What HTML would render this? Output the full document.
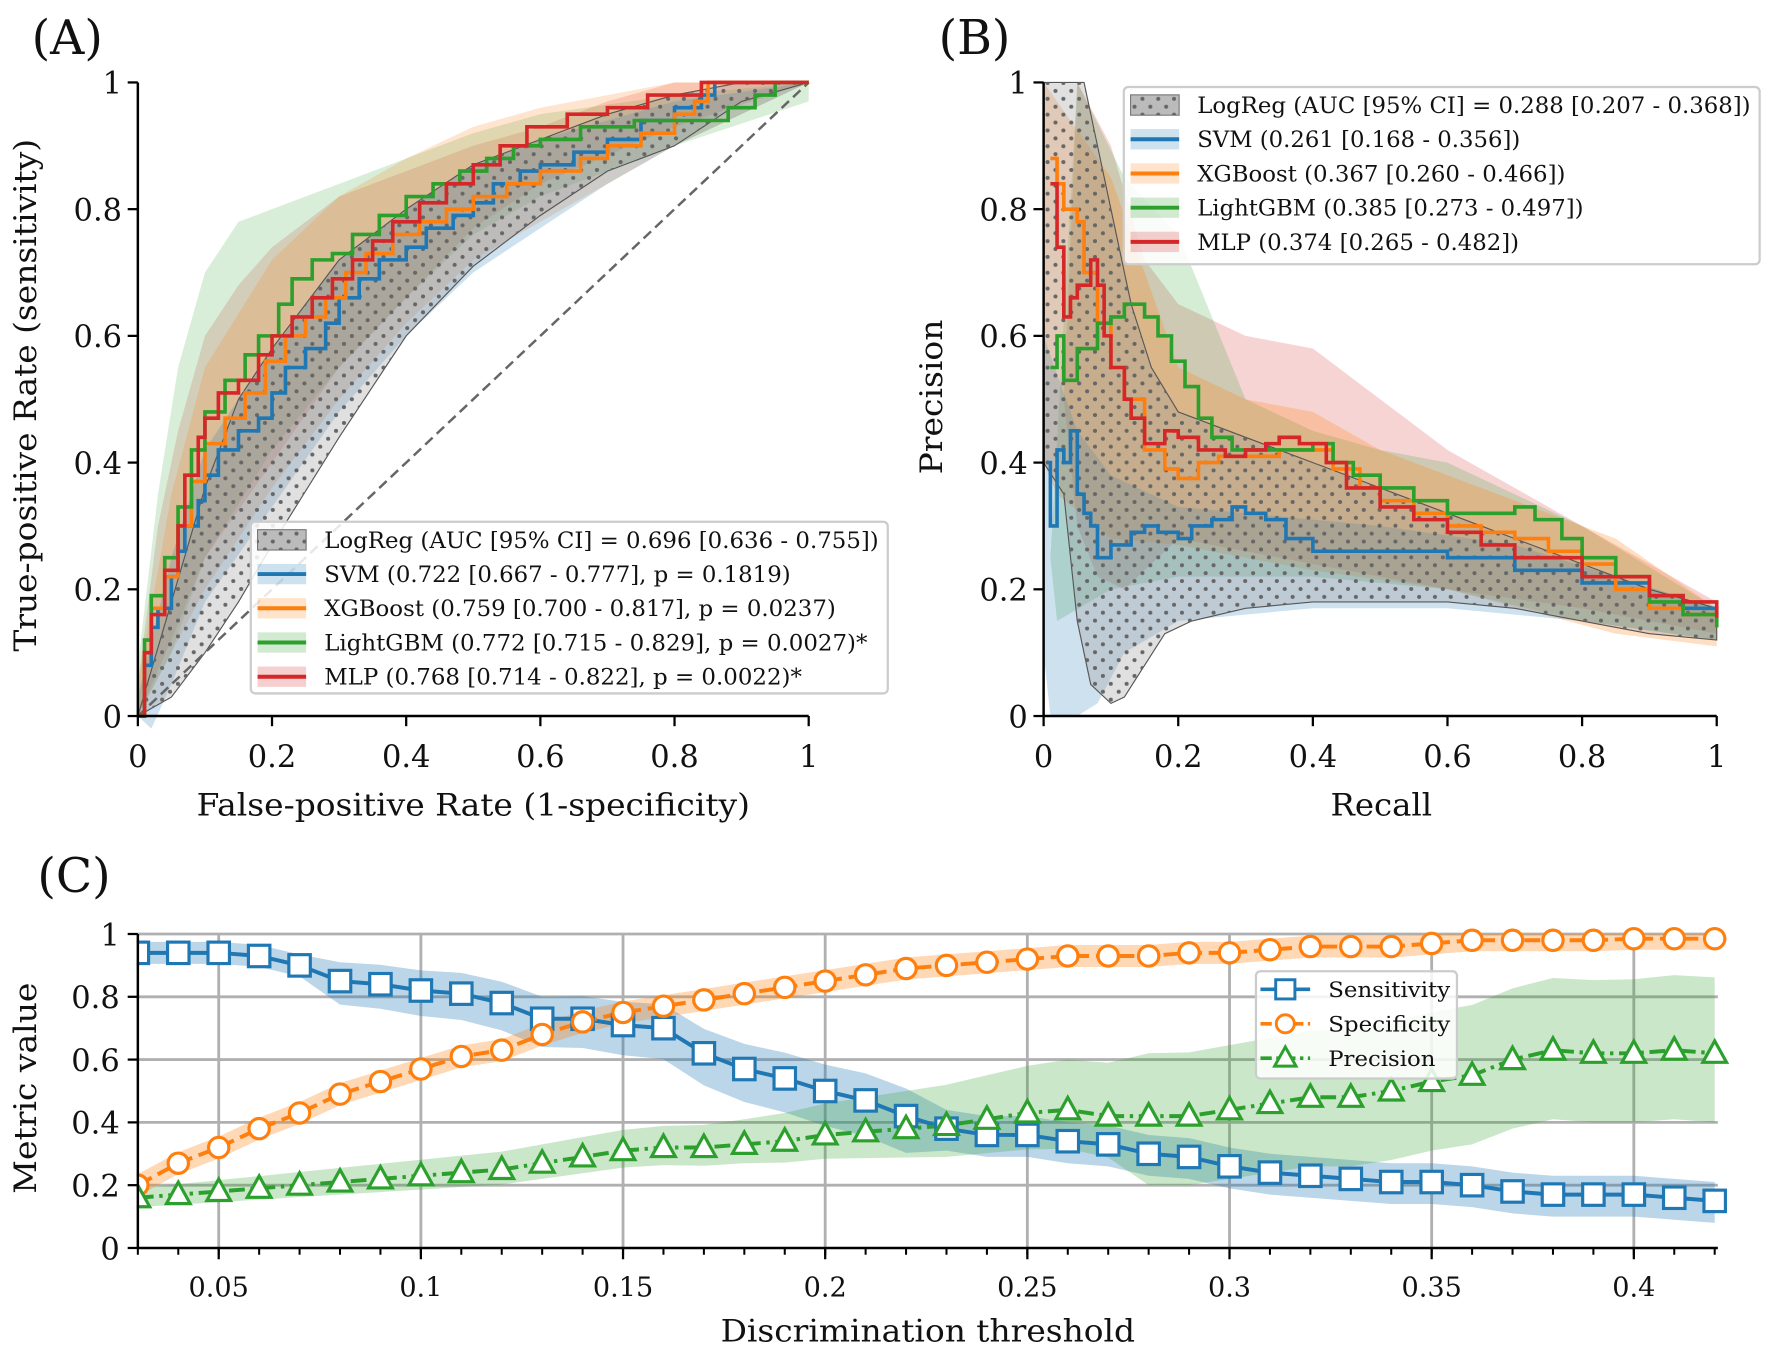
<!DOCTYPE html>
<html><head><meta charset="utf-8">
<style>
html,body{margin:0;padding:0;background:#fff;}
svg{display:block;}
text{font-family:"DejaVu Serif","Liberation Serif",serif;fill:#111;}
</style></head>
<body>
<svg id="s" width="1771" height="1353" viewBox="0 0 1568 1198" xmlns="http://www.w3.org/2000/svg">
<defs>
<pattern id="dots" width="14" height="14" patternUnits="userSpaceOnUse">
<rect width="14" height="14" fill="none"/>
<circle cx="3.5" cy="3.5" r="1.8" fill="#666"/>
<circle cx="10.5" cy="10.5" r="1.8" fill="#666"/>
</pattern>
</defs>
<g id="g"></g>
</svg>
<script>
const NS="http://www.w3.org/2000/svg";
const G=document.getElementById('g');
function el(t,a,txt,p){const e=document.createElementNS(NS,t);for(const k in a)e.setAttribute(k,a[k]);if(txt!==undefined&&txt!==null)e.textContent=txt;(p||G).appendChild(e);return e;}
const C={b:'#1f77b4',o:'#ff7f0e',g:'#2ca02c',r:'#d62728',k:'#777'};
function mA(x,y){return [122+x*594,634-y*561];}
function mB(x,y){return [924+x*596,634-y*561];}
function pts(arr,m,step){let out=[];let prev=null;for(const p of arr){if(step&&prev){out.push(m(p[0],prev[1]));}out.push(m(p[0],p[1]));prev=p;}return out.map(q=>q[0].toFixed(1)+','+q[1].toFixed(1)).join(' ');}
function band(up,lo,m,fill,op,extra){const a=up.concat(lo);el('polygon',Object.assign({points:pts(a,m),fill:fill,'fill-opacity':op,stroke:'none'},extra||{}));}
function line(arr,m,col,w,step,extra){el('polyline',Object.assign({points:pts(arr,m,step),fill:'none',stroke:col,'stroke-width':w,'stroke-linejoin':'miter'},extra||{}));}

// ===== Panel A =====
band([[0,0.05],[0.03,0.3],[0.06,0.45],[0.1,0.6],[0.15,0.68],[0.2,0.74],[0.3,0.82],[0.4,0.86],[0.5,0.9],[0.6,0.93],[0.7,0.97],[0.8,1],[1,1]],[[1,1],[0.8,0.93],[0.6,0.84],[0.5,0.77],[0.4,0.66],[0.3,0.55],[0.2,0.4],[0.1,0.25],[0.05,0.12],[0,0]],mA,C.r,0.18);
band([[0,0.08],[0.03,0.35],[0.06,0.55],[0.1,0.7],[0.15,0.78],[0.2,0.8],[0.3,0.84],[0.4,0.88],[0.5,0.92],[0.6,0.95],[0.8,0.98],[1,1]],[[1,0.97],[0.8,0.9],[0.6,0.82],[0.5,0.76],[0.4,0.66],[0.3,0.55],[0.2,0.42],[0.1,0.25],[0.05,0.1],[0,0]],mA,C.g,0.18);
band([[0,0.05],[0.05,0.35],[0.1,0.55],[0.2,0.72],[0.3,0.82],[0.4,0.88],[0.5,0.93],[0.6,0.96],[0.8,1],[1,1]],[[1,1],[0.8,0.9],[0.7,0.84],[0.6,0.78],[0.5,0.72],[0.4,0.62],[0.3,0.5],[0.2,0.36],[0.1,0.2],[0,0]],mA,C.o,0.2);
band([[0,0.03],[0.05,0.25],[0.1,0.42],[0.2,0.58],[0.3,0.72],[0.4,0.8],[0.5,0.87],[0.6,0.91],[0.8,0.97],[1,1]],[[1,1],[0.8,0.9],[0.7,0.84],[0.6,0.77],[0.5,0.7],[0.4,0.6],[0.3,0.48],[0.2,0.33],[0.1,0.18],[0.05,0.05],[0.02,-0.02],[0,0]],mA,C.b,0.22);
const lrU=[[0,0],[0.05,0.18],[0.1,0.36],[0.15,0.5],[0.2,0.58],[0.3,0.72],[0.4,0.8],[0.5,0.87],[0.6,0.91],[0.7,0.95],[0.8,0.98],[0.9,1],[1,1]];
const lrL=[[1,1],[0.9,0.97],[0.8,0.9],[0.7,0.86],[0.6,0.79],[0.5,0.71],[0.4,0.6],[0.3,0.44],[0.2,0.27],[0.15,0.18],[0.1,0.1],[0.05,0.03],[0,0]];
band(lrU,lrL,mA,'#999',0.3,{stroke:'#555','stroke-width':1});
band(lrU,lrL,mA,'url(#dots)',1);
el('line',{x1:122,y1:634,x2:716,y2:73,stroke:'#666','stroke-width':2.2,'stroke-dasharray':'9,5'});
line([[0,0],[0.01,0.08],[0.02,0.14],[0.03,0.17],[0.05,0.22],[0.06,0.26],[0.07,0.3],[0.09,0.34],[0.1,0.38],[0.12,0.42],[0.15,0.45],[0.18,0.47],[0.2,0.51],[0.22,0.55],[0.25,0.58],[0.28,0.62],[0.3,0.66],[0.33,0.69],[0.36,0.72],[0.4,0.74],[0.43,0.77],[0.47,0.79],[0.5,0.81],[0.53,0.84],[0.57,0.86],[0.6,0.87],[0.65,0.89],[0.7,0.91],[0.75,0.94],[0.8,0.96],[0.84,0.98],[0.86,1],[1,1]],mA,C.b,3.2,true);
line([[0,0],[0.01,0.1],[0.02,0.17],[0.04,0.22],[0.06,0.3],[0.08,0.37],[0.1,0.43],[0.13,0.47],[0.16,0.51],[0.19,0.56],[0.22,0.6],[0.25,0.63],[0.28,0.66],[0.31,0.7],[0.34,0.73],[0.38,0.76],[0.42,0.78],[0.46,0.8],[0.5,0.82],[0.55,0.84],[0.6,0.86],[0.66,0.88],[0.7,0.9],[0.75,0.92],[0.8,0.95],[0.83,0.97],[0.85,1],[1,1]],mA,C.o,3.2,true);
line([[0,0],[0.01,0.12],[0.02,0.19],[0.04,0.25],[0.06,0.33],[0.08,0.42],[0.1,0.48],[0.13,0.53],[0.16,0.57],[0.18,0.6],[0.21,0.65],[0.23,0.69],[0.26,0.72],[0.29,0.73],[0.32,0.76],[0.36,0.79],[0.4,0.82],[0.44,0.84],[0.48,0.86],[0.52,0.88],[0.56,0.9],[0.6,0.91],[0.66,0.93],[0.74,0.94],[0.82,0.94],[0.88,0.96],[0.92,0.98],[0.95,1],[1,1]],mA,C.g,3.2,true);
line([[0,0],[0.01,0.1],[0.02,0.16],[0.04,0.23],[0.06,0.3],[0.07,0.38],[0.09,0.44],[0.1,0.47],[0.12,0.51],[0.15,0.53],[0.18,0.57],[0.2,0.6],[0.23,0.63],[0.26,0.66],[0.29,0.69],[0.32,0.72],[0.35,0.75],[0.38,0.78],[0.42,0.81],[0.46,0.84],[0.5,0.87],[0.54,0.9],[0.58,0.93],[0.64,0.95],[0.7,0.96],[0.76,0.98],[0.84,1],[1,1]],mA,C.r,3.2,true);

// ===== Panel B =====
band([[0.05,1],[0.1,0.9],[0.15,0.72],[0.2,0.65],[0.3,0.6],[0.4,0.58],[0.5,0.5],[0.6,0.42],[0.8,0.3],[1,0.18]],[[1,0.13],[0.8,0.17],[0.6,0.2],[0.4,0.24],[0.2,0.28],[0.12,0.2],[0.08,0.22],[0.05,0.3],[0.03,0.5]],mB,C.r,0.2);
band([[0.05,1],[0.12,0.85],[0.2,0.76],[0.3,0.5],[0.4,0.45],[0.5,0.42],[0.6,0.4],[0.8,0.3],[1,0.17]],[[1,0.12],[0.8,0.15],[0.6,0.2],[0.4,0.22],[0.2,0.22],[0.1,0.2],[0.02,0.15],[0.01,0.25]],mB,C.g,0.2);
band([[0,1],[0.1,0.85],[0.15,0.7],[0.2,0.55],[0.3,0.5],[0.4,0.48],[0.5,0.42],[0.7,0.34],[0.85,0.28],[1,0.17]],[[1,0.11],[0.85,0.13],[0.6,0.2],[0.4,0.23],[0.3,0.25],[0.2,0.27],[0.1,0.28],[0.02,0.35],[0,0.4]],mB,C.o,0.25);
band([[0,0.6],[0.05,0.45],[0.1,0.38],[0.2,0.33],[0.3,0.32],[0.5,0.3],[0.7,0.27],[1,0.17]],[[1,0.12],[0.8,0.15],[0.6,0.17],[0.4,0.17],[0.3,0.16],[0.2,0.15],[0.12,0.1],[0.08,0.02],[0.05,0],[0.01,0],[0,0.1]],mB,C.b,0.22);
const prU=[[0,1],[0.06,1],[0.08,0.9],[0.1,0.8],[0.13,0.65],[0.16,0.55],[0.2,0.48],[0.3,0.44],[0.4,0.4],[0.5,0.36],[0.6,0.32],[0.7,0.28],[0.8,0.24],[0.9,0.2],[1,0.17]];
const prL=[[1,0.12],[0.9,0.13],[0.8,0.15],[0.7,0.17],[0.6,0.18],[0.5,0.18],[0.4,0.18],[0.3,0.17],[0.22,0.15],[0.18,0.13],[0.15,0.08],[0.12,0.03],[0.1,0.02],[0.07,0.05],[0.05,0.15],[0.03,0.35],[0,0.4]];
band(prU,prL,mB,'#999',0.3,{stroke:'#555','stroke-width':1});
band(prU,prL,mB,'url(#dots)',1);
line([[0.005,0.4],[0.01,0.3],[0.02,0.42],[0.03,0.4],[0.04,0.45],[0.05,0.35],[0.06,0.32],[0.07,0.3],[0.08,0.25],[0.1,0.27],[0.13,0.29],[0.15,0.3],[0.17,0.29],[0.2,0.28],[0.22,0.3],[0.25,0.31],[0.28,0.33],[0.3,0.32],[0.33,0.31],[0.36,0.28],[0.4,0.26],[0.5,0.26],[0.6,0.25],[0.7,0.23],[0.8,0.21],[0.9,0.19],[0.95,0.17],[1,0.16]],mB,C.b,3.2,true);
line([[0.01,0.88],[0.02,0.84],[0.03,0.8],[0.05,0.78],[0.06,0.7],[0.08,0.62],[0.1,0.55],[0.12,0.5],[0.15,0.42],[0.18,0.39],[0.2,0.375],[0.23,0.4],[0.26,0.41],[0.3,0.41],[0.35,0.42],[0.4,0.42],[0.43,0.39],[0.47,0.36],[0.5,0.34],[0.55,0.32],[0.6,0.3],[0.65,0.29],[0.7,0.28],[0.75,0.26],[0.8,0.24],[0.85,0.2],[0.9,0.17],[0.95,0.16],[1,0.14]],mB,C.o,3.2,true);
line([[0.01,0.55],[0.02,0.6],[0.03,0.53],[0.05,0.58],[0.08,0.62],[0.1,0.63],[0.12,0.65],[0.15,0.63],[0.17,0.6],[0.19,0.56],[0.21,0.52],[0.23,0.47],[0.25,0.44],[0.28,0.42],[0.33,0.42],[0.4,0.43],[0.43,0.4],[0.46,0.38],[0.5,0.36],[0.55,0.34],[0.6,0.32],[0.65,0.32],[0.7,0.33],[0.73,0.31],[0.77,0.28],[0.8,0.25],[0.85,0.22],[0.9,0.18],[0.95,0.16],[1,0.14]],mB,C.g,3.2,true);
line([[0.01,0.84],[0.02,0.74],[0.03,0.63],[0.04,0.66],[0.05,0.68],[0.07,0.72],[0.08,0.68],[0.09,0.6],[0.1,0.55],[0.12,0.5],[0.13,0.47],[0.15,0.43],[0.18,0.45],[0.2,0.44],[0.23,0.42],[0.27,0.41],[0.3,0.42],[0.33,0.43],[0.35,0.44],[0.38,0.43],[0.42,0.4],[0.45,0.36],[0.5,0.33],[0.55,0.31],[0.6,0.29],[0.65,0.27],[0.7,0.25],[0.8,0.22],[0.9,0.19],[0.95,0.18],[1,0.155]],mB,C.r,3.2,true);

function axes(x0,x1,m){
  el('line',{x1:x0,y1:634,x2:x1,y2:634,stroke:'#000','stroke-width':2.2});
  el('line',{x1:x0,y1:634,x2:x0,y2:73,stroke:'#000','stroke-width':2.2});
  const labs=['0','0.2','0.4','0.6','0.8','1'];
  for(let i=0;i<=5;i++){
    const v=i/5;const p=m(v,v);
    el('line',{x1:p[0],y1:634,x2:p[0],y2:643,stroke:'#000','stroke-width':2});
    el('text',{x:p[0],y:679,'text-anchor':'middle','font-size':27},labs[i]);
    el('line',{x1:x0,y1:p[1],x2:x0-9,y2:p[1],stroke:'#000','stroke-width':2});
    el('text',{x:x0-14,y:p[1]+10,'text-anchor':'end','font-size':27},labs[i]);
  }
}
axes(122,716,mA);axes(924,1520,mB);
el('text',{x:174,y:722,'font-size':27,textLength:490,lengthAdjust:'spacingAndGlyphs'},'False-positive Rate (1-specificity)');
el('text',{x:0,y:0,'font-size':27,textLength:454,lengthAdjust:'spacingAndGlyphs',transform:'translate(32,577) rotate(-90)'},'True-positive Rate (sensitivity)');
el('text',{x:1178,y:722,'font-size':27,textLength:90,lengthAdjust:'spacingAndGlyphs'},'Recall');
el('text',{x:0,y:0,'font-size':27,textLength:137,lengthAdjust:'spacingAndGlyphs',transform:'translate(834,420) rotate(-90)'},'Precision');
el('text',{x:28,y:48,'font-size':42},'(A)');
el('text',{x:831,y:48,'font-size':42},'(B)');
el('text',{x:33,y:790,'font-size':42},'(C)');

function legend(x,y,w,h,rows){
  el('rect',{x:x,y:y,width:w,height:h,rx:4,fill:'#fff','fill-opacity':0.85,stroke:'#ccc','stroke-width':2});
  rows.forEach((r,i)=>{
    const cy=y+16+i*30.3;
    if(r[0]==='k'){
      el('rect',{x:x+6,y:cy-9,width:43,height:18,fill:'#bbb',stroke:'#777','stroke-width':1});
      el('rect',{x:x+6,y:cy-9,width:43,height:18,fill:'url(#dots)'});
    } else {
      el('rect',{x:x+6,y:cy-9,width:43,height:18,fill:C[r[0]],'fill-opacity':0.22});
      el('line',{x1:x+6,y1:cy,x2:x+49,y2:cy,stroke:C[r[0]],'stroke-width':3.5});
    }
    el('text',{x:x+65,y:cy+7,'font-size':20,textLength:r[2],lengthAdjust:'spacingAndGlyphs'},r[1]);
  });
}
legend(222,462,564,152,[['k','LogReg (AUC [95% CI] = 0.696 [0.636 - 0.755])',491],['b','SVM (0.722 [0.667 - 0.777], p = 0.1819)',413],['o','XGBoost (0.759 [0.700 - 0.817], p = 0.0237)',453],['g','LightGBM (0.772 [0.715 - 0.829], p = 0.0027)*',481],['r','MLP (0.768 [0.714 - 0.822], p = 0.0022)*',423]]);
legend(995,77,563,157,[['k','LogReg (AUC [95% CI] = 0.288 [0.207 - 0.368])',490],['b','SVM (0.261 [0.168 - 0.356])',286],['o','XGBoost (0.367 [0.260 - 0.466])',326],['g','LightGBM (0.385 [0.273 - 0.497])',342],['r','MLP (0.374 [0.265 - 0.482])',285]]);

// ===== Panel C =====
const cx=t=>122+(t-0.03)*3580, cy=v=>1105-v*278;
for(let v=0.2;v<=1.001;v+=0.2){el('line',{x1:122,y1:cy(v),x2:1521,y2:cy(v),stroke:'#b0b0b0','stroke-width':2.5});}
for(let t=0.05;t<=0.4001;t+=0.05){el('line',{x1:cx(t),y1:827,x2:cx(t),y2:1105,stroke:'#b0b0b0','stroke-width':2.5});}
const sen=[.94,.94,.94,.93,.90,.85,.84,.82,.81,.78,.73,.73,.71,.70,.62,.57,.54,.50,.47,.42,.38,.36,.36,.34,.33,.30,.29,.26,.24,.23,.22,.21,.21,.20,.18,.17,.17,.17,.16,.15];
const spe=[.20,.27,.32,.38,.43,.49,.53,.57,.61,.63,.68,.72,.75,.77,.79,.81,.83,.85,.87,.89,.90,.91,.92,.93,.93,.93,.94,.94,.95,.96,.96,.96,.97,.98,.98,.98,.98,.985,.985,.985];
const pre=[.16,.17,.18,.19,.20,.21,.22,.23,.24,.25,.27,.29,.31,.32,.32,.33,.34,.36,.37,.38,.39,.41,.43,.44,.42,.42,.42,.44,.46,.48,.48,.50,.53,.55,.60,.63,.62,.62,.63,.62];
const T=sen.map((_,i)=>0.03+i*0.01);
function cband(vals,lo,hi,col,op){
  const up=vals.map((v,i)=>[cx(T[i]),cy(Math.min(1,v+hi(i)))]);
  const dn=vals.map((v,i)=>[cx(T[i]),cy(Math.max(0,v-lo(i)))]).reverse();
  el('polygon',{points:up.concat(dn).map(p=>p.join(',')).join(' '),fill:col,'fill-opacity':op});
}
cband(sen,i=>i<5?0.035:(i<20?0.06+i*0.003:0.07),i=>i<5?0.035:(i<20?0.05+i*0.002:0.06),C.b,0.3);
cband(spe,i=>0.035,i=>0.035,C.o,0.3);
cband(pre,i=>i<15?0.03+i*0.002:(i<25?0.06+(i-15)*0.008:0.22),i=>i<15?0.03+i*0.003:(i<25?0.08+(i-15)*0.01:0.2+(i-25)*0.003),C.g,0.25);
function cline(vals,col,dash){el('polyline',{points:vals.map((v,i)=>cx(T[i])+','+cy(v)).join(' '),fill:'none',stroke:col,'stroke-width':3.5,'stroke-dasharray':dash||'none'});}
cline(sen,C.b);cline(spe,C.o,'14,6');cline(pre,C.g,'14,5,3,5');
sen.forEach((v,i)=>el('rect',{x:cx(T[i])-9.5,y:cy(v)-9.5,width:19,height:19,fill:'#fff',stroke:C.b,'stroke-width':2.8}));
spe.forEach((v,i)=>el('circle',{cx:cx(T[i]),cy:cy(v),r:9,fill:'#fff',stroke:C.o,'stroke-width':2.8}));
pre.forEach((v,i)=>{const x=cx(T[i]),y=cy(v);el('polygon',{points:`${x},${y-11} ${x-10.5},${y+8} ${x+10.5},${y+8}`,fill:'#fff',stroke:C.g,'stroke-width':2.8});});
el('rect',{x:0,y:1106,width:1568,height:92,fill:'#fff'});
el('rect',{x:0,y:800,width:121,height:310,fill:'#fff'});
el('line',{x1:122,y1:1105,x2:1521,y2:1105,stroke:'#000','stroke-width':2.2});
el('line',{x1:122,y1:1105,x2:122,y2:827,stroke:'#000','stroke-width':2.2});
for(let i=0;i<=5;i++){const v=i/5,y=cy(v);el('line',{x1:122,y1:y,x2:113,y2:y,stroke:'#000','stroke-width':2});el('text',{x:106,y:y+10,'text-anchor':'end','font-size':27},['0','0.2','0.4','0.6','0.8','1'][i]);}
for(let i=0;i<40;i++){const x=cx(0.03+i*0.01);el('line',{x1:x,y1:1105,x2:x,y2:1111,stroke:'#000','stroke-width':1.8});}
['0.05','0.1','0.15','0.2','0.25','0.3','0.35','0.4'].forEach(s=>{const x=cx(parseFloat(s));el('line',{x1:x,y1:1105,x2:x,y2:1115,stroke:'#000','stroke-width':2});el('text',{x:x,y:1148,'text-anchor':'middle','font-size':24},s);});
el('text',{x:638,y:1188,'font-size':27,textLength:367,lengthAdjust:'spacingAndGlyphs'},'Discrimination threshold');
el('text',{x:0,y:0,'font-size':27,textLength:187,lengthAdjust:'spacingAndGlyphs',transform:'translate(32,1057) rotate(-90)'},'Metric value');
el('rect',{x:1112,y:860,width:178,height:95,rx:4,fill:'#fff','fill-opacity':0.85,stroke:'#ccc','stroke-width':2});
[['b','Sensitivity','sq',''],['o','Specificity','ci','10,4'],['g','Precision','tr','10,4,3,4']].forEach((r,i)=>{
  const y=876+i*30.5,x=1138;
  el('line',{x1:1116,y1:y,x2:1160,y2:y,stroke:C[r[0]],'stroke-width':3.2,'stroke-dasharray':r[3]||'none'});
  if(r[2]==='sq')el('rect',{x:x-8.5,y:y-8.5,width:17,height:17,fill:'#fff',stroke:C[r[0]],'stroke-width':2.6});
  if(r[2]==='ci')el('circle',{cx:x,cy:y,r:8,fill:'#fff',stroke:C[r[0]],'stroke-width':2.6});
  if(r[2]==='tr')el('polygon',{points:`${x},${y-10} ${x-9.5},${y+7} ${x+9.5},${y+7}`,fill:'#fff',stroke:C[r[0]],'stroke-width':2.6});
  el('text',{x:1176,y:y+7,'font-size':19,textLength:[108,108,95][i],lengthAdjust:'spacingAndGlyphs'},r[1]);
});
</script>
</body></html>
